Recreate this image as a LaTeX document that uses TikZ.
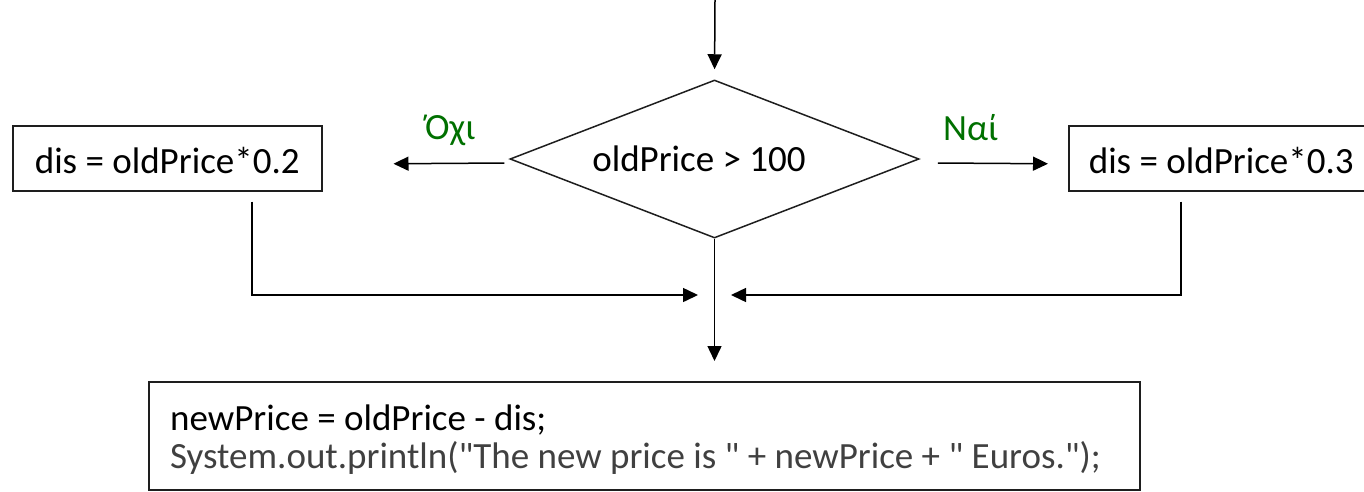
\documentclass[tikz,border=0pt]{standalone}
\usepackage{fontspec}
\setmainfont{Carlito}[Ligatures=TeXOff]
\usetikzlibrary{arrows.meta,shapes.geometric}
\definecolor{answer}{RGB}{0,112,0}
\definecolor{codegray}{RGB}{64,64,64}
\definecolor{edge}{RGB}{30,30,30}
\begin{document}
\begin{tikzpicture}[x=1pt,y=-1pt,
  font=\fontsize{37}{44}\selectfont,
  box/.style={draw=edge, line width=1.5pt, inner xsep=0pt, inner ysep=0pt,
    text height=48pt, text depth=17pt},
  decision/.style={diamond, draw=edge, line width=1.5pt, inner sep=0pt,
    minimum width=409pt, minimum height=158pt},
  txt/.style={inner sep=0pt},
  answerlabel/.style={txt, text=answer, anchor=base west},
  arr/.style={-{Triangle[length=15pt,width=14pt]}, line width=1.5pt, draw=black}]

\useasboundingbox (0,0) rectangle (1364,491);

% decision
\node[decision] (dec) at (714.5,159) {};
\node[txt, anchor=base] (cond) at (699,171) {oldPrice > 100};

% the two branches
\node[box, minimum width=309pt, anchor=north west] (lbox) at (12,125) {dis = oldPrice*0.2};
\node[box, minimum width=305pt, anchor=north west] (rbox) at (1068,125) {dis = oldPrice*0.3};
\node[answerlabel] (no) at (425,139) {Όχι};
\node[answerlabel] (yes) at (943,140) {Ναί};

% final statement block
\node[draw=edge, line width=1.5pt, minimum width=991pt, minimum height=108pt,
  inner sep=0pt, anchor=north west] (bbox) at (148,381) {};
\node[txt, anchor=base west] (line1) at (170,430) {newPrice = oldPrice - dis;};
\node[txt, anchor=base west, text=codegray] (line2) at (170,468)
  {System.out.println("The new price is " + newPrice + " Euros.");};

% connectors
\coordinate (entry) at (715,0);
\coordinate (mL) at (698,295);
\coordinate (mR) at (731,295);

\draw[arr, shorten >=10pt] (entry) -- (dec.north);
\draw[arr] ([xshift=-5pt,yshift=-4pt]dec.west) -- ([xshift=71pt,yshift=-5.5pt]lbox.east);
\draw[arr] ([xshift=18pt,yshift=-4pt]dec.east) -- ([xshift=-20pt,yshift=-5.5pt]rbox.west);
\draw[arr] ([xshift=84.5pt,yshift=-10pt]lbox.south) |- (mL);
\draw[arr] ([xshift=-40.5pt,yshift=-10pt]rbox.south) |- (mR);
\draw[arr, shorten >=20pt] (dec.south) -- (dec.south |- bbox.north);
\end{tikzpicture}
\end{document}
